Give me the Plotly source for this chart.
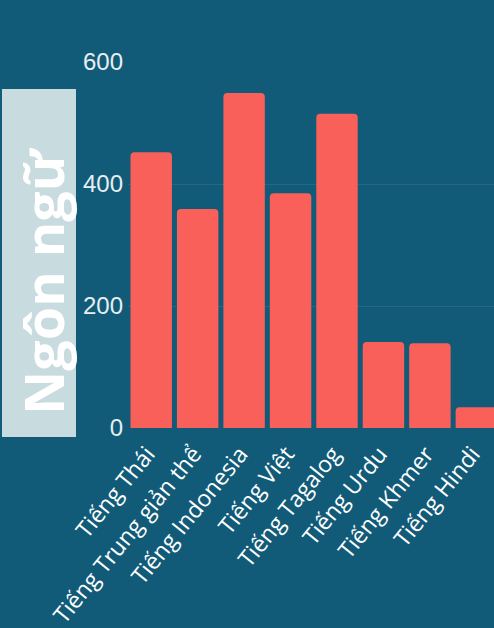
import plotly.graph_objects as go

languages = ["Tiếng Thái", "Tiếng Trung giản thể", "Tiếng Indonesia", "Tiếng Việt",
             "Tiếng Tagalog", "Tiếng Urdu", "Tiếng Khmer", "Tiếng Hindi"]
counts = [452, 359, 549, 385, 515, 141, 139, 34]
y_ticks = [0, 200, 400, 600]
axis_title = "Ngôn ngữ"

BG = "#125b78"
BAR = "#f9605a"

fig = go.Figure(go.Bar(x=languages, y=counts, marker=dict(color=BAR, line=dict(width=0))))

fig.update_layout(
    width=494, height=628,
    paper_bgcolor=BG, plot_bgcolor=BG,
    margin=dict(l=128, r=0, t=62, b=200, pad=0),
    bargap=0.108,
    barcornerradius=4,
    showlegend=False,
    font=dict(family="Open Sans", color="#eef4f5"),
    xaxis=dict(type="category", range=[-0.5, 7.38], tickangle=-51,
               tickfont=dict(family="Open Sans", size=23, color="#ffffff"),
               ticklabelshift=-4, ticklabelstandoff=7,
               showgrid=False, zeroline=False, showline=False, ticks=""),
    yaxis=dict(range=[0, 600], tickvals=y_ticks, ticktext=[str(v) for v in y_ticks],
               tickfont=dict(family="Liberation Sans, Arial", size=24, color="#e6eff1"),
               showgrid=True, gridcolor="rgba(255,255,255,0.08)", gridwidth=1,
               zeroline=False, showline=False, ticks="", ticklabelstandoff=4),
    shapes=[dict(type="rect", xref="paper", yref="paper",
                 x0=-0.3443, x1=-0.1421, y0=-0.0246, y1=0.9262,
                 fillcolor="#c8dcdf", line=dict(width=0), layer="above")],
    annotations=[dict(
        text="<b>" + axis_title + "</b>", xref="paper", yref="paper",
        x=-0.232, y=0.400, xanchor="center", yanchor="middle",
        textangle=-90, showarrow=False,
        font=dict(family="Open Sans", size=54, color="#ffffff"),
    )],
)

fig.write_html("out.html", config={"displayModeBar": False},
               post_script="document.body.style.margin='0';document.body.style.background='%s';" % BG)
